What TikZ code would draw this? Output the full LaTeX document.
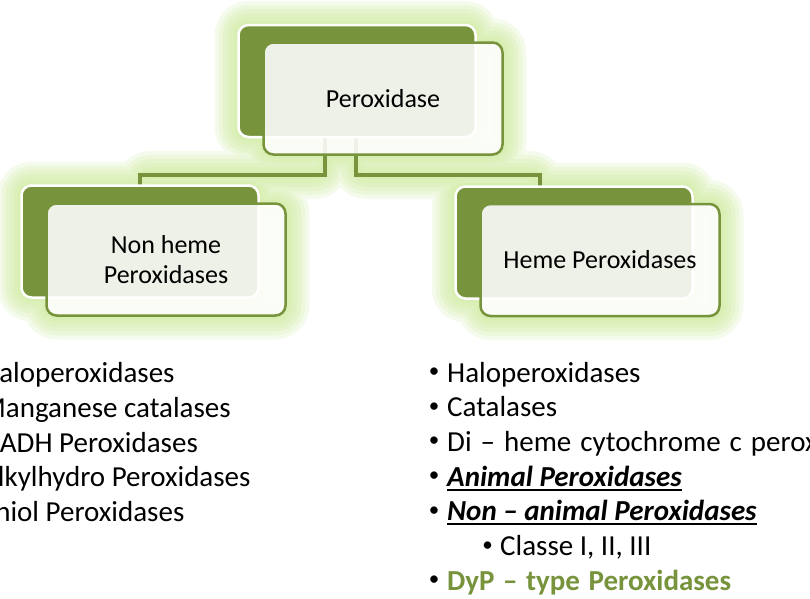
\documentclass[tikz,border=0pt]{standalone}
\usepackage{fontspec}
\setmainfont{Carlito}
\usetikzlibrary{calc}
\pgfdeclarelayer{glowlayer}
\pgfdeclarelayer{connlayer}
\pgfsetlayers{glowlayer,connlayer,main}
\definecolor{og}{HTML}{77933C}
\definecolor{glowc}{HTML}{C2E588}
\tikzset{
  backbox/.style={fill=og, draw=white, line width=2.5pt, rounded corners=10pt,
    minimum width=237pt, minimum height=112pt, outer sep=0pt, inner sep=0pt},
  frontbox/.style={fill=white, fill opacity=0.88, text opacity=1, draw=og,
    line width=2.5pt, rounded corners=10pt, minimum width=239pt, minimum height=112pt,
    outer sep=0pt, align=center, font=\fontsize{26}{30}\selectfont},
  conn/.style={draw=og, line width=3.2pt},
  glowline/.style={draw=glowc, line width=#1, draw opacity=0.16, rounded corners=10pt, line join=round},
  item/.style={anchor=base west, inner sep=0pt, font=\fontsize{29}{35}\selectfont},
  bul/.style={anchor=base, inner sep=0pt, font=\fontsize{21}{24}\selectfont},
  uline/.style={line width=2.2pt},
}
\begin{document}
\begin{tikzpicture}[x=1pt,y=-1pt]
\useasboundingbox (0,0) rectangle (810,598);
\clip (0,0) rectangle (810,598);
% boxes
\node[backbox] (topback) at (357,81) {};
\node[frontbox] (top) at (383,98.5) {Peroxidase};
\node[backbox] (leftback) at (140,241.5) {};
\node[frontbox] (left) at (166,259.5) {Non heme\\Peroxidases};
\node[backbox] (rightback) at (574,242.5) {};
\node[frontbox] (right) at (600,260) {Heme Peroxidases};
% connectors
\begin{pgfonlayer}{connlayer}
\draw[conn] ($(topback.south)+(-32,0)$) -- ++(0,38) -| (leftback.north);
\draw[conn] ($(topback.south)+(-1,0)$) -- ++(0,38) -| ($(rightback.north)+(-34,0)$);
\end{pgfonlayer}
% glow
\begin{pgfonlayer}{glowlayer}
\foreach \w in {48,40,32,24,16,8}{
  \path[glowline=\w pt]
    (topback.north west) rectangle (topback.south east)
    (top.north west) rectangle (top.south east)
    (leftback.north west) rectangle (leftback.south east)
    (left.north west) rectangle (left.south east)
    (rightback.north west) rectangle (rightback.south east)
    (right.north west) rectangle (right.south east)
    ($(topback.south)+(-32,0)$) -- ++(0,38) -| (leftback.north)
    ($(topback.south)+(-1,0)$) -- ++(0,38) -| ($(rightback.north)+(-34,0)$);
}
\end{pgfonlayer}
% left list
\node[item] (l1) at (-19,382) {Haloperoxidases};
\node[item] (l2) at (-19,417) {Manganese catalases};
\node[item] (l3) at (-19,452) {NADH Peroxidases};
\node[item] (l4) at (-19,486) {Alkylhydro Peroxidases};
\node[item] (l5) at (-19,521) {Thiol Peroxidases};
% right list
\node[bul] (b1) at (434,377.5) {•};
\node[item] (r1) at (447,382) {Haloperoxidases};
\node[bul] (b2) at (434,412.2) {•};
\node[item] (r2) at (447,416.7) {Catalases};
\node[bul] (b3) at (434,446.9) {•};
\node[item] (r3) at (447,451.4) {\spaceskip=9pt Di – heme cytochrome c peroxidases};
\node[bul] (b4) at (434,481.6) {•};
\node[item, font=\fontsize{29}{35}\selectfont\bfseries\itshape] (r4) at (447,486.1) {Animal Peroxidases};
\draw[uline] ([yshift=-3.5pt]r4.base west) -- ([yshift=-3.5pt]r4.base east);
\node[bul] (b5) at (434,516.3) {•};
\node[item, font=\fontsize{29}{35}\selectfont\bfseries\itshape] (r5) at (447,520.8) {Non – animal Peroxidases};
\draw[uline] ([yshift=-3.5pt]r5.base west) -- ([yshift=-3.5pt]r5.base east);
\node[bul] (b6) at (487.5,551) {•};
\node[item] (r6) at (500,555.5) {Classe I, II, III};
\node[bul] (b7) at (434,585.7) {•};
\node[item, text=og, font=\fontsize{29}{35}\selectfont\bfseries] (r7) at (447,590.2) {\spaceskip=8.5pt DyP – type Peroxidases};
\end{tikzpicture}
\end{document}
